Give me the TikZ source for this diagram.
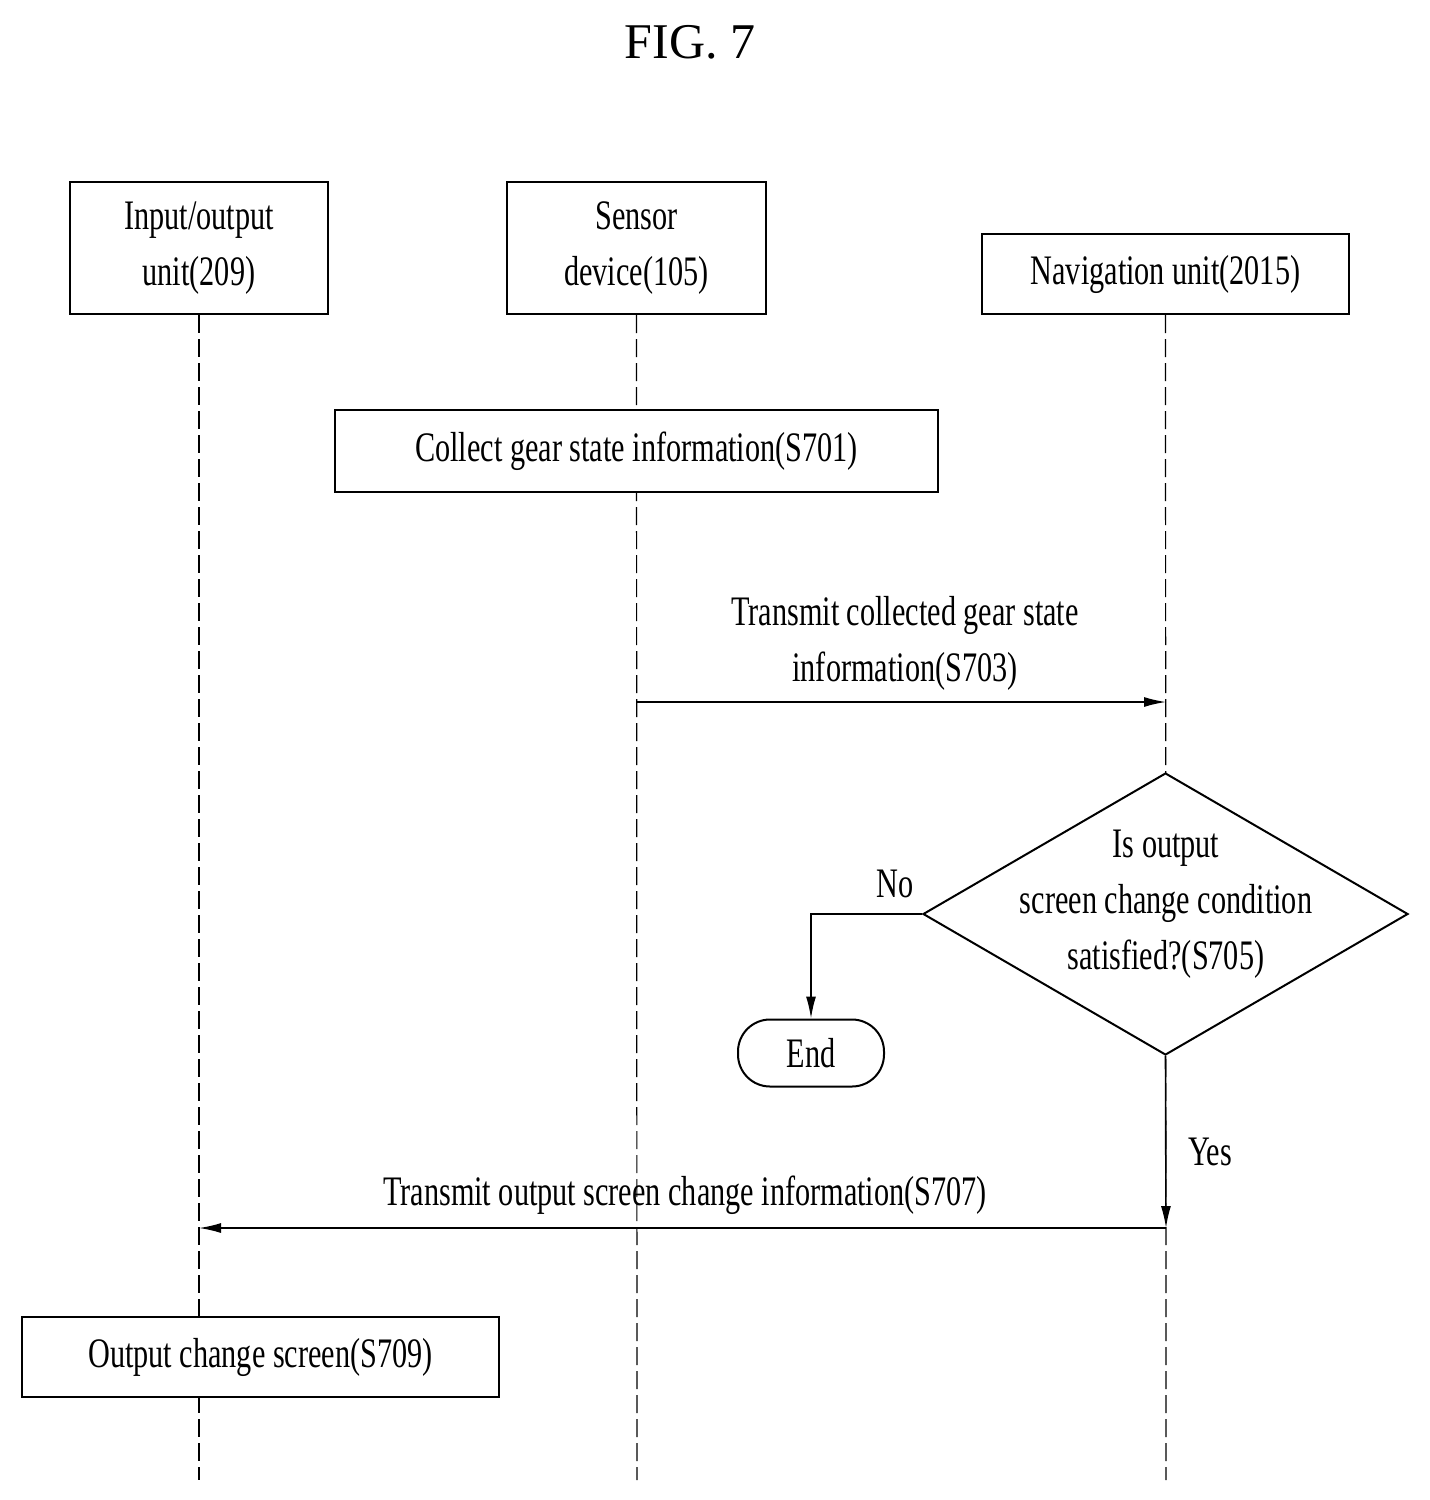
\documentclass[tikz,border=0pt]{standalone}
\usepackage{fontspec}
\setmainfont{Liberation Serif}[FakeStretch=0.72]
\newfontfamily\titlefont{Liberation Serif}
\usetikzlibrary{arrows.meta,shapes.geometric}
\begin{document}
\begin{tikzpicture}[x=0.5pt,y=-0.5pt,
  box/.style={draw,line width=1pt,fill=white,align=center,inner sep=0pt,font=\fontsize{21}{28}\selectfont},
  txt/.style={align=center,inner sep=0pt,font=\fontsize{21}{28}\selectfont},
  life/.style={draw,line width=0.6pt,dash pattern=on 9pt off 3pt},
  msg/.style={draw,line width=0.8pt,-{Latex[length=11pt,width=5pt]}}]
\useasboundingbox (0,0) rectangle (1430,1500);
\node[font=\titlefont\fontsize{25}{30}\selectfont] (title) at (690,42) {FIG. 7};
\node[box,minimum width=129pt,minimum height=66pt] (io) at (199,248) {Input/output\\unit(209)};
\node[box,minimum width=129.5pt,minimum height=66pt] (sd) at (636.5,248) {Sensor\\device(105)};
\node[box,minimum width=183.5pt,minimum height=40pt] (nav) at (1165.5,274) {Navigation unit(2015)};
\coordinate (ioE) at (199,1480);
\coordinate (sdE) at (637,1480);
\coordinate (navE) at (1166,1480);
\path[life] (io.south) -- (ioE);
\path[life] (sd.south) -- (sdE);
\path[life] (nav.south) -- (navE);
\node[box,minimum width=301.5pt,minimum height=41pt] (collect) at (636.5,451) {Collect gear state information(S701)};
\coordinate (a1) at (637,702);
\coordinate (a2) at (1166,702);
\path[msg] (a1) -- (a2);
\node[txt] (l703) at (905,643) {Transmit collected gear state\\information(S703)};
\node[diamond,draw,line width=1pt,fill=white,minimum width=242.5pt,minimum height=141pt,inner sep=0pt] (dec) at (1165.5,914) {};
\node[txt] (dtext) at (1166,904) {Is output\\screen change condition\\satisfied?(S705)};
\node[draw,line width=1pt,rounded corners=16pt,minimum width=73pt,minimum height=33.5pt,inner sep=0pt,font=\fontsize{21}{28}\selectfont] (end) at (811,1053) {End};
\path[msg] (dec.west) -| (end.north);
\node[txt] (no) at (895,884) {No};
\coordinate (y1) at (1166,1228);
\coordinate (y2) at (199,1228);
\path[msg] (dec.south) -- (y1);
\path[msg] (y1) -- (y2);
\node[txt] (yes) at (1210,1152) {Yes};
\node[txt] (l707) at (685,1195) {Transmit output screen change information(S707)};
\node[box,minimum width=238.5pt,minimum height=40pt] (out) at (260.5,1357) {Output change screen(S709)};
\end{tikzpicture}
\end{document}
